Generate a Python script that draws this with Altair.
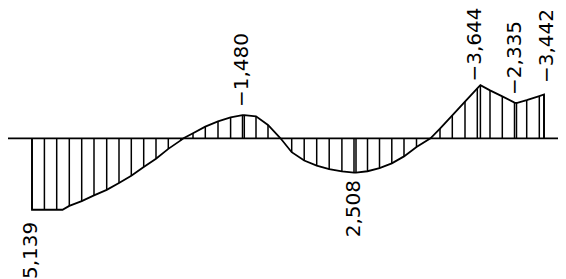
import altair as alt
import pandas as pd

# Moment diagram outline: station along the beam (m) and moment value.
# Positive moments are drawn below the axis, negative above.
stations = [0.0, 0.0, 0.62, 1.235, 1.525, 1.865, 2.485, 3.1, 3.735, 4.35, 4.965, 5.585,
            6.2, 6.815, 7.435, 7.575,
            8.05, 8.665, 9.3, 9.93, 10.525, 10.615, 11.2, 11.8, 12.425,
            12.985, 13.61, 14.235, 14.86, 15.495, 16.1, 16.2, 16.775, 17.375, 17.99,
            18.6, 19.225, 19.925,
            20.4, 21.015, 21.65, 22.265, 22.42, 22.9, 23.515, 24.125, 24.225, 24.735,
            25.365, 25.6, 25.6]
moments = [0.0, 5.139, 5.139, 5.139, 5.139, 4.86, 4.52, 4.11, 3.71, 3.22, 2.70, 2.07,
           1.47, 0.76, 0.15, 0.0,
           -0.36, -0.84, -1.22, -1.50, -1.66, -1.66, -1.58, -0.96, 0.0,
           1.0, 1.6, 1.96, 2.22, 2.38, 2.47, 2.47, 2.37, 2.15, 1.8,
           1.3, 0.62, 0.0,
           -0.70, -1.65, -2.64, -3.59, -3.82, -3.45, -3.02, -2.57, -2.54, -2.75,
           -3.04, -3.15, 0.0]
hatched = [False, True, True, True, False, True, True, True, True, True, True, True,
           True, True, True, False,
           True, True, True, True, True, True, True, True, False,
           True, True, True, True, True, True, True, True, True, True,
           True, True, False,
           True, True, True, True, True, True, True, True, True, True,
           True, True, False]

# Value labels
label_stations = [-0.05, 10.485, 16.1, 22.15, 24.15, 25.75]
label_anchor = [6.0, -2.25, 3.0, -4.08, -3.12, -3.98]
label_texts = ["5,139", "\u22121,480", "2,508", "\u22123,644", "\u22122,335", "\u22123,442"]

df = pd.DataFrame({"station": stations, "moment": moments, "hatched": hatched,
                   "order": list(range(len(stations)))})
labels = pd.DataFrame({"station": label_stations, "anchor": label_anchor, "text": label_texts})
axis_df = pd.DataFrame({"moment": [0.0]})

xs = alt.Scale(domain=[-1.2, 26.3], nice=False, zero=False)
ys = alt.Scale(domain=[-9.374, 10.122], nice=False, zero=False, reverse=True)

X = alt.X("station:Q", scale=xs, axis=None)

baseline = alt.Chart(axis_df).mark_rule(color="black", strokeWidth=1.8).encode(
    y=alt.Y("moment:Q", scale=ys, axis=None)
)

hatch = alt.Chart(df).transform_filter("datum.hatched").transform_calculate(zero="0").mark_rule(
    color="black", strokeWidth=1.5
).encode(
    x=X,
    y=alt.Y("moment:Q", scale=ys, axis=None),
    y2="zero:Q",
)

outline = alt.Chart(df).mark_line(color="black", strokeWidth=1.8).encode(
    x=X,
    y=alt.Y("moment:Q", scale=ys, axis=None),
    order="order:Q",
)

text_below = alt.Chart(labels).transform_filter("datum.anchor > 0").mark_text(
    angle=270, align="right", baseline="middle", font="DejaVu Sans", fontSize=20, color="black"
).encode(
    x=X,
    y=alt.Y("anchor:Q", scale=ys, axis=None),
    text="text:N",
)

text_above = alt.Chart(labels).transform_filter("datum.anchor < 0").mark_text(
    angle=270, align="left", baseline="middle", font="DejaVu Sans", fontSize=20, color="black"
).encode(
    x=X,
    y=alt.Y("anchor:Q", scale=ys, axis=None),
    text="text:N",
)

chart = alt.layer(baseline, hatch, outline, text_below, text_above).properties(
    width=550, height=271, padding=0, autosize=alt.AutoSizeParams(type="none"),
    background="white",
).configure_view(stroke=None)

chart.save("out.html", embed_options={"renderer": "svg", "actions": False})
